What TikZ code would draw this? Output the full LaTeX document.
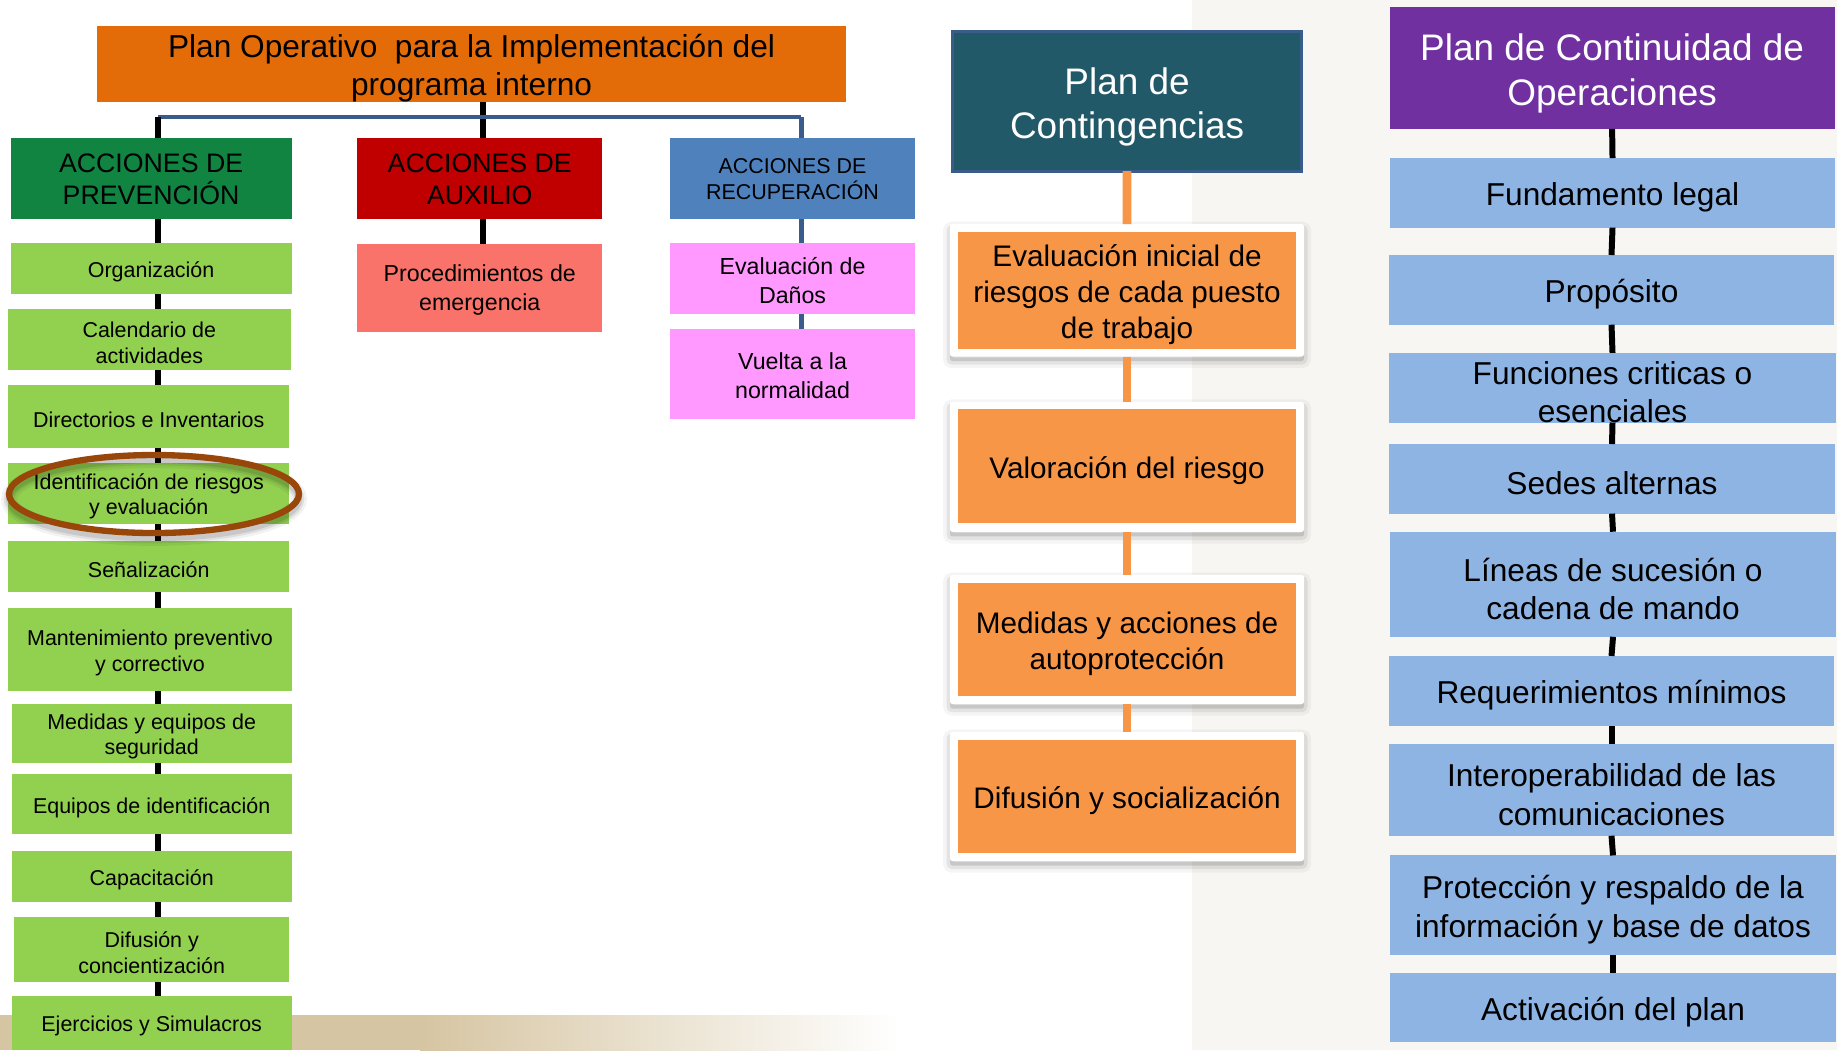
\documentclass[tikz,border=0pt]{standalone}
\usepackage{fontspec}
\setmainfont{Liberation Sans}

\definecolor{cTitle}{RGB}{227,108,9}
\definecolor{cPrev}{RGB}{17,132,66}
\definecolor{cAux}{RGB}{192,0,0}
\definecolor{cRec}{RGB}{79,129,189}
\definecolor{cGreen}{RGB}{146,208,80}
\definecolor{cSalmon}{RGB}{249,115,106}
\definecolor{cPink}{RGB}{255,153,255}
\definecolor{cTeal}{RGB}{33,89,104}
\definecolor{cTealEdge}{RGB}{58,92,138}
\definecolor{cOrange}{RGB}{247,150,70}
\definecolor{cPurple}{RGB}{112,48,160}
\definecolor{cLight}{RGB}{142,180,227}
\definecolor{cRing}{RGB}{153,70,10}
\definecolor{cBus}{RGB}{58,92,140}
\definecolor{cBand}{RGB}{214,197,162}
\definecolor{cBg}{RGB}{248,246,242}

% box from corner (x1,y1) to (x2,y2), pixel coordinates from the top-left;
% the label is set as a separate node so it can sit slightly lower
\newcommand{\mkbox}[8]{%
  \node[box, #1, minimum width={(#6-#4)*0.01cm}, minimum height={(#7-#5)*0.01cm}]
    (#3) at ({(#4+#6)/2},{(#5+#7)/2}) {};
  \node[txt, #2] at (#3.center) {#8};}

\tikzset{
  box/.style={rectangle, inner sep=0pt, outer sep=0pt},
  txt/.style={inner sep=0pt, align=center, text=black},
  fTitle/.style={font=\fontsize{9pt}{10.7pt}\selectfont, yshift=-1.3pt},
  fHead/.style={font=\fontsize{7.6pt}{9pt}\selectfont, yshift=-0.2pt},
  fHeadSmall/.style={font=\fontsize{6.1pt}{7.3pt}\selectfont, yshift=-0.2pt},
  fItem/.style={font=\fontsize{6.1pt}{7.2pt}\selectfont, yshift=-0.9pt},
  fItemB/.style={font=\fontsize{6.6pt}{8.3pt}\selectfont, yshift=-0.6pt},
  fBig/.style={font=\fontsize{10.5pt}{12.6pt}\selectfont, text=white, yshift=-1.6pt},
  fOrange/.style={font=\fontsize{8.45pt}{10.2pt}\selectfont, yshift=-1.3pt},
  fBlue/.style={font=\fontsize{9pt}{11pt}\selectfont, yshift=-1.3pt},
  softshadow/.style={
    preaction={draw=black, opacity=0.04, line width=4pt, transform canvas={yshift=-1.3pt}},
    preaction={draw=black, opacity=0.07, line width=2pt, transform canvas={yshift=-1.3pt}},
    preaction={fill=black, opacity=0.12, transform canvas={yshift=-1.3pt}}},
  framebox/.style={fill=white, rounded corners=0.7pt, softshadow},
  blk/.style={line width=1.7pt, black},
  busline/.style={line width=1.3pt, cBus},
  orangeline/.style={line width=2.5pt, cOrange},
}

\begin{document}
\begin{tikzpicture}[x=0.01cm, y=-0.01cm]
\useasboundingbox (0,0) rectangle (1837,1050);

% page background
\fill[white] (0,0) rectangle (1837,1050);
\fill[cBg] (1192,0) rectangle (1837,1050);
\fill[cBand] (0,1015) rectangle (420,1050);
\shade[left color=cBand, right color=white] (420,1015) rectangle (900,1050);

% ---------- Plan operativo ----------
\mkbox{fill=cTitle}{fTitle}{title}{97.2}{25.8}{845.9}{101.9}{Plan Operativo\ \ para la Implementación del\\programa interno}

\mkbox{fill=cPrev}{fHead}{prev}{10.5}{138.2}{291.7}{219.1}{ACCIONES DE\\PREVENCIÓN}
\mkbox{fill=cAux}{fHead}{aux}{357.3}{138.2}{602.2}{219.1}{ACCIONES DE\\AUXILIO}
\mkbox{fill=cRec}{fHeadSmall}{rec}{670.1}{138.2}{915.0}{219.1}{ACCIONES DE\\RECUPERACIÓN}

\coordinate (busL) at (158.2,117);
\coordinate (busM) at (482.7,117);
\coordinate (busR) at (801.4,117);

\draw[blk] (title.south -| busM) -- (aux.north -| busM);
\draw[busline] (busL) -- (busR);
\draw[blk] (busL) -- (prev.north -| busL);
\draw[busline] (busR) -- (rec.north -| busR);

% prevention items
\mkbox{fill=cGreen}{fItem}{g1}{10.5}{242.5}{291.7}{294.1}{Organización}
\mkbox{fill=cGreen}{fItem}{g2}{8.2}{309.3}{290.5}{370.2}{Calendario de\\actividades}
\mkbox{fill=cGreen}{fItem}{g3}{8.2}{385.4}{289.4}{447.5}{Directorios e Inventarios}
\mkbox{fill=cGreen}{fItem}{g4}{8.2}{462.8}{289.4}{523.7}{Identificación de riesgos\\y evaluación}
\mkbox{fill=cGreen}{fItem}{g5}{8.2}{541.3}{289.4}{591.6}{Señalización}
\mkbox{fill=cGreen}{fItem}{g6}{8.2}{608.0}{291.7}{691.2}{Mantenimiento preventivo\\y correctivo}
\mkbox{fill=cGreen}{fItem}{g7}{11.7}{704.1}{291.7}{762.7}{Medidas y equipos de\\seguridad}
\mkbox{fill=cGreen}{fItem}{g8}{11.7}{774.4}{291.7}{834.2}{Equipos de identificación}
\mkbox{fill=cGreen}{fItem}{g9}{11.7}{850.6}{291.7}{902.1}{Capacitación}
\mkbox{fill=cGreen}{fItem}{g10}{14.1}{917.3}{289.4}{981.8}{Difusión y\\concientización}
\mkbox{fill=cGreen}{fItem}{g11}{11.7}{995.8}{291.7}{1050}{Ejercicios y Simulacros}

\draw[blk] (prev.south -| busL) -- (g1.north -| busL);
\foreach \a/\b in {g1/g2,g2/g3,g3/g4,g4/g5,g5/g6,g6/g7,g7/g8,g8/g9,g9/g10,g10/g11}
  \draw[blk] (\a.south -| busL) -- (\b.north -| busL);

% highlight ring with a soft shadow under it
\draw[black, opacity=0.05, line width=4.5pt] (154,499) ellipse [x radius=145, y radius=39];
\draw[black, opacity=0.08, line width=3pt] (154,499) ellipse [x radius=145, y radius=39];
\draw[black, opacity=0.10, line width=1.8pt] (154,499) ellipse [x radius=145, y radius=39];
\draw[cRing, line width=1.8pt] (154,494) ellipse [x radius=145, y radius=39];

% auxilio and recuperacion items
\mkbox{fill=cSalmon}{fItemB}{proc}{357.3}{243.7}{602.2}{331.6}{Procedimientos de\\emergencia}
\draw[blk] (aux.south -| busM) -- (proc.north -| busM);

\mkbox{fill=cPink}{fItemB}{evd}{670.1}{243.3}{915.0}{313.8}{Evaluación de\\Daños}
\mkbox{fill=cPink}{fItemB}{vue}{670.1}{329.0}{915.0}{418.7}{Vuelta a la\\normalidad}
\draw[busline] (rec.south -| busR) -- (evd.north -| busR);
\draw[busline] (evd.south -| busR) -- (vue.north -| busR);

% ---------- Plan de contingencias ----------
\mkbox{fill=cTeal, draw=cTealEdge, line width=0.9pt}{fBig}{cont}{952.5}{31.6}{1301.6}{171.1}{Plan de\\Contingencias}

\mkbox{framebox}{}{f1}{950}{224}{1304}{356.5}{}
\mkbox{fill=cOrange}{fOrange}{o1}{958.3}{231.7}{1295.8}{349}{Evaluación inicial de\\riesgos de cada puesto\\de trabajo}
\mkbox{framebox}{}{f2}{950}{401.8}{1304}{531.9}{}
\mkbox{fill=cOrange}{fOrange}{o2}{958.3}{409}{1295.8}{522.5}{Valoración del riesgo}
\mkbox{framebox}{}{f3}{950}{575}{1304}{704}{}
\mkbox{fill=cOrange}{fOrange}{o3}{958.3}{583}{1295.8}{696}{Medidas y acciones de\\autoprotección}
\mkbox{framebox}{}{f4}{950}{732}{1304}{861}{}
\mkbox{fill=cOrange}{fOrange}{o4}{958.3}{740}{1295.8}{853}{Difusión y socialización}

\draw[orangeline] (cont.south) -- (f1.north);
\draw[orangeline] (f1.south) -- (f2.north);
\draw[orangeline] (f2.south) -- (f3.north);
\draw[orangeline] (f3.south) -- (f4.north);

% ---------- Plan de continuidad ----------
\mkbox{fill=cPurple}{fBig}{pco}{1389.5}{7}{1834.7}{128.9}{Plan de Continuidad de\\Operaciones}

\mkbox{fill=cLight}{fBlue}{b1}{1390}{158}{1835}{227.6}{Fundamento legal}
\mkbox{fill=cLight}{fBlue}{b2}{1389}{255}{1834}{324.7}{Propósito}
\mkbox{fill=cLight}{fBlue}{b3}{1389}{352.9}{1836}{422.5}{Funciones criticas o\\esenciales}
\mkbox{fill=cLight}{fBlue}{b4}{1389}{444}{1835}{513.6}{Sedes alternas}
\mkbox{fill=cLight}{fBlue}{b5}{1390}{531.7}{1836}{636.8}{Líneas de sucesión o\\cadena de mando}
\mkbox{fill=cLight}{fBlue}{b6}{1389}{655.9}{1834}{725.9}{Requerimientos mínimos}
\mkbox{fill=cLight}{fBlue}{b7}{1389}{744}{1834}{835.7}{Interoperabilidad de las\\comunicaciones}
\mkbox{fill=cLight}{fBlue}{b8}{1390}{855.4}{1836}{954.5}{Protección y respaldo de la\\información y base de datos}
\mkbox{fill=cLight}{fBlue}{b9}{1390}{973}{1836}{1042}{Activación del plan}

\draw[blk] (pco.south) -- (b1.north);
\foreach \a/\b in {b1/b2,b2/b3,b3/b4,b4/b5,b5/b6,b6/b7,b7/b8,b8/b9}
  \draw[blk] (\a.south) -- (\b.north);

\end{tikzpicture}
\end{document}
